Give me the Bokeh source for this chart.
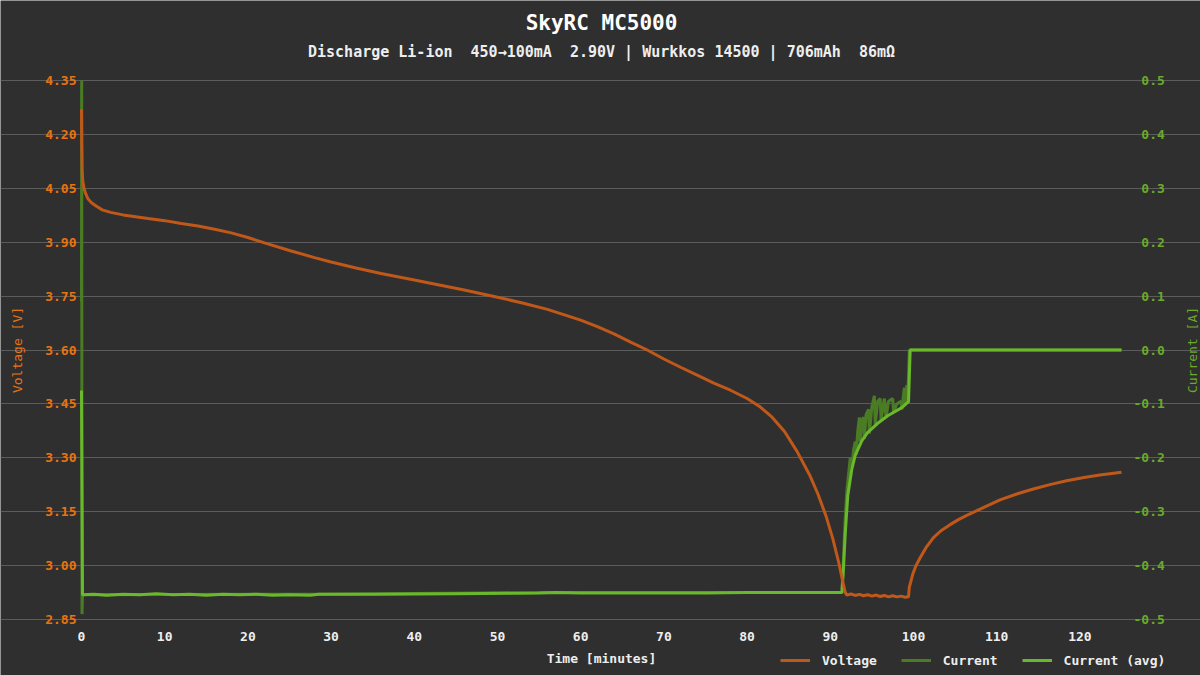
import math
from bokeh.plotting import figure
from bokeh.models import (Range1d, LinearAxis, FixedTicker, NumeralTickFormatter, Label,
                          Legend, LegendItem, ColumnDataSource)
from bokeh.embed import file_html
from bokeh.resources import INLINE

# ---------------- data ----------------
time_v = [0, 0.03, 0.08, 0.15, 0.3, 0.5, 0.8, 1.2, 1.8, 2.5, 3.5, 5, 6.5, 8, 10, 12, 14, 16, 18, 20,
          22, 25, 28, 30, 33, 36, 40, 43, 46, 50, 53, 56, 60, 62, 64, 66, 68, 70, 72, 74, 76, 78, 80,
          81.5, 83, 84.5, 86, 87.5, 88.5, 89.5, 90.3, 91, 91.5, 91.8,
          92.0, 92.5, 93, 93.5, 94, 94.5, 95, 95.5, 96, 96.5, 97, 97.5, 98, 98.5, 99, 99.4,
          99.5, 99.9, 100.3, 100.8, 101.5, 102.4, 103.3, 104.4, 105.4, 106.4, 108, 110.4, 112.5,
          114.4, 116.5, 118.4, 120.5, 122.4, 125]
voltage = [4.27, 4.18, 4.10, 4.07, 4.05, 4.035, 4.02, 4.01, 4.0, 3.99, 3.983, 3.976, 3.971, 3.966,
           3.960, 3.952, 3.945, 3.936, 3.926, 3.913, 3.898, 3.877, 3.857, 3.845, 3.828, 3.813, 3.795,
           3.781, 3.767, 3.747, 3.731, 3.713, 3.683, 3.665, 3.645, 3.622, 3.600, 3.575, 3.552, 3.530,
           3.508, 3.488, 3.465, 3.443, 3.413, 3.373, 3.318, 3.253, 3.200, 3.137, 3.075, 3.010, 2.955,
           2.925,
           2.918, 2.921, 2.917, 2.920, 2.916, 2.919, 2.915, 2.918, 2.914, 2.917, 2.913, 2.916, 2.913,
           2.915, 2.912, 2.913,
           2.94, 2.975, 3.0, 3.022, 3.05, 3.078, 3.097, 3.114, 3.128, 3.140, 3.157, 3.183, 3.200,
           3.213, 3.226, 3.236, 3.245, 3.252, 3.260]

time_avg = [0, 0.12, 1.5, 3, 5, 7, 9, 11, 13, 15, 17, 19, 21, 23, 25, 27.5, 28.5, 35, 45, 55, 57,
            60, 65, 70, 75, 80, 85, 91.4, 91.6, 91.8, 92.1, 92.6, 93.0, 93.8, 94.5, 95.7, 96.9,
            98.6, 99.3, 99.4, 99.6, 125]
current_avg = [-0.075, -0.454, -0.453, -0.455, -0.453, -0.454, -0.452, -0.454, -0.453, -0.455,
               -0.453, -0.454, -0.453, -0.455, -0.454, -0.455, -0.453, -0.453, -0.452, -0.451,
               -0.450, -0.451, -0.451, -0.451, -0.451, -0.450, -0.450, -0.450, -0.40, -0.34,
               -0.27, -0.22, -0.195, -0.168, -0.153, -0.136, -0.122, -0.107, -0.097, -0.097,
               0.0, 0.0]

time_raw = [0, 0.02, 0.06, 0.12, 28.5, 57, 91.4, 91.6, 91.8, 92.0, 92.2, 92.4, 92.6, 92.8, 93.0,
            93.1, 93.3, 93.5, 93.6, 93.8, 94.0, 94.1, 94.3, 94.6, 94.7, 95.0, 95.3, 95.4, 95.7,
            96.0, 96.1, 96.5, 96.7, 97.0, 97.5, 97.6, 98.0, 98.5, 98.6, 98.9, 99.0, 99.2, 99.3,
            99.5, 125]
current_raw = [0.09, 0.5, -0.49, -0.454, -0.453, -0.450, -0.45, -0.38, -0.31, -0.26, -0.23, -0.20,
               -0.215, -0.185, -0.17, -0.195, -0.15, -0.125, -0.17, -0.13, -0.125, -0.165, -0.12,
               -0.11, -0.155, -0.105, -0.085, -0.14, -0.095, -0.09, -0.13, -0.09, -0.125, -0.095,
               -0.09, -0.115, -0.10, -0.095, -0.11, -0.07, -0.10, -0.065, -0.095, 0.0, 0.0]

v_ticks = [2.85, 3.0, 3.15, 3.3, 3.45, 3.6, 3.75, 3.9, 4.05, 4.2, 4.35]
c_ticks = [-0.5, -0.4, -0.3, -0.2, -0.1, 0.0, 0.1, 0.2, 0.3, 0.4, 0.5]
c_labels = ["-0.5", "-0.4", "-0.3", "-0.2", "-0.1", "\u00a00.0", "\u00a00.1", "\u00a00.2",
            "\u00a00.3", "\u00a00.4", "\u00a00.5"]
t_ticks = [0, 10, 20, 30, 40, 50, 60, 70, 80, 90, 100, 110, 120]

title_text = "SkyRC MC5000"
subtitle_text = ("Discharge Li-ion\u00a0 450\u2192100mA\u00a0 2.90V | Wurkkos 14500 | "
                 "706mAh\u00a0 86m\u03a9")
x_label = "Time [minutes]"
v_label = "Voltage [V]"
c_label = "Current [A]"
series_names = ["Voltage", "Current", "Current (avg)"]

# ---------------- styles / layout ----------------
FONT = "DejaVu Sans Mono"
BG = "#2f2f2f"
ORANGE_TXT = "#e8730f"
ORANGE_LINE = "#c0581a"
GREEN_TXT = "#6aaa2a"
GREEN_RAW = "#4a7c24"
GREEN_AVG = "#6ab82b"
WHITE_TXT = "#eeeeee"

W, H = 1200, 675
GL, GR, GT, GB = 81, 1121, 80, 619     # pixel box of the grid inside the canvas

T_LO, T_HI = 0, 125
V_LO, V_HI = 2.85, 4.35
C_LO, C_HI = -0.5, 0.5


def span(lo, hi, a, b, n):
    """range values so that lo..hi covers pixels a..b of an n-pixel long frame"""
    k = (hi - lo) / (b - a)
    return lo - a * k, hi + (n - b) * k


tx0, tx1 = span(T_LO, T_HI, GL, GR, W)
vy0, vy1 = span(V_LO, V_HI, H - GB, H - GT, H)
cy0, cy1 = span(C_LO, C_HI, H - GB, H - GT, H)

p = figure(width=W, height=H, output_backend="svg", toolbar_location=None,
           x_range=Range1d(tx0, tx1), y_range=Range1d(vy0, vy1),
           min_border_left=0, min_border_right=0, min_border_top=0, min_border_bottom=0,
           background_fill_color=BG, border_fill_color=BG, outline_line_color=None)
p.extra_y_ranges = {"current": Range1d(cy0, cy1)}


def plain(ax):
    ax.axis_line_color = None
    ax.major_tick_line_color = None
    ax.minor_tick_line_color = None
    ax.major_tick_out = 0
    ax.major_tick_in = 0
    ax.minor_tick_out = 0
    ax.minor_tick_in = 0
    ax.major_label_text_font = FONT
    ax.major_label_text_font_size = "13px"
    ax.major_label_text_font_style = "bold"
    ax.axis_label_text_font = FONT
    ax.axis_label_text_font_size = "13px"


# x axis, on the lowest grid line
xa = p.xaxis[0]
plain(xa)
xa.fixed_location = V_LO
xa.bounds = (T_LO, T_HI)
xa.ticker = FixedTicker(ticks=t_ticks)
xa.axis_label = x_label
xa.axis_label_text_font_style = "bold"
xa.axis_label_text_color = WHITE_TXT
xa.axis_label_standoff = 7
xa.major_label_text_color = WHITE_TXT
xa.major_label_standoff = 12

# left axis, at minute 0
ya = p.yaxis[0]
plain(ya)
ya.fixed_location = T_LO
ya.bounds = (V_LO, V_HI)
ya.ticker = FixedTicker(ticks=v_ticks)
ya.formatter = NumeralTickFormatter(format="0.00")
ya.axis_label = v_label
ya.axis_label_text_font_style = "normal"
ya.axis_label_text_color = ORANGE_TXT
ya.axis_label_standoff = 17
ya.major_label_text_color = ORANGE_TXT
ya.major_label_standoff = 5

# right axis, at the last minute
ra = LinearAxis(y_range_name="current", ticker=FixedTicker(ticks=c_ticks),
                major_label_overrides=dict(zip(c_ticks, c_labels)),
                fixed_location=T_HI, bounds=(C_LO, C_HI))
plain(ra)
ra.major_label_text_color = GREEN_TXT
ra.major_label_standoff = 12
p.add_layout(ra, "right")

# right axis name (reads bottom to top, like the left one)
p.add_layout(Label(x=1192, y=H - (GT + GB) / 2, x_units="screen", y_units="screen",
                   text=c_label, angle=math.pi / 2, text_align="center",
                   text_baseline="middle", text_font=FONT, text_font_size="13px",
                   text_color=GREEN_TXT))

# titles
cx = (GL + GR) / 2
p.add_layout(Label(x=cx, y=H - 22, x_units="screen", y_units="screen", text=title_text,
                   text_align="center", text_baseline="middle", text_font=FONT,
                   text_font_size="21px", text_font_style="bold", text_color="#ffffff"))
p.add_layout(Label(x=cx, y=H - 51, x_units="screen", y_units="screen", text=subtitle_text,
                   text_align="center", text_baseline="middle", text_font=FONT,
                   text_font_size="15px", text_font_style="bold", text_color=WHITE_TXT))

p.xgrid.visible = False
p.ygrid.ticker = FixedTicker(ticks=v_ticks)
p.ygrid.grid_line_color = "#5c5c5c"
p.ygrid.grid_line_width = 1
p.ygrid.bounds = (T_LO, T_HI)

src_v = ColumnDataSource(dict(t=time_v, v=voltage))
src_raw = ColumnDataSource(dict(t=time_raw, c=current_raw))
src_avg = ColumnDataSource(dict(t=time_avg, c=current_avg))

rr = p.line("t", "c", source=src_raw, y_range_name="current", line_color=GREEN_RAW, line_width=3)
rc = p.line("t", "c", source=src_avg, y_range_name="current", line_color=GREEN_AVG, line_width=3)
rv = p.line("t", "v", source=src_v, line_color=ORANGE_LINE, line_width=3)

legend = Legend(items=[LegendItem(label=series_names[0], renderers=[rv]),
                       LegendItem(label=series_names[1], renderers=[rr]),
                       LegendItem(label=series_names[2], renderers=[rc])],
                orientation="horizontal", location=(780, 5),
                background_fill_alpha=0, border_line_color=None,
                label_text_color=WHITE_TXT, label_text_font=FONT, label_text_font_size="13px",
                label_text_font_style="bold", glyph_width=30, glyph_height=20, label_height=20,
                label_standoff=12, spacing=24, padding=0, margin=0)
p.add_layout(legend)

open("out.html", "w").write(file_html(p, INLINE))
